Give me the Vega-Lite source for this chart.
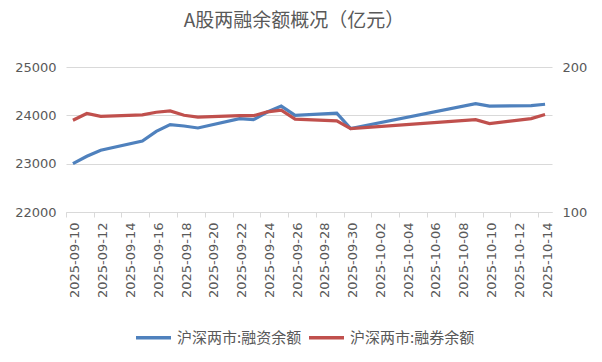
{
  "$schema": "https://vega.github.io/schema/vega-lite/v6.json",
  "autosize": "none",
  "width": 486,
  "height": 145,
  "padding": {"left": 66, "top": 67, "right": 50, "bottom": 150},
  "background": "white",
  "config": {"view": {"stroke": null}, "font": "Noto Sans CJK SC"},
  "title": {
    "text": "A股两融余额概况（亿元）",
    "font": "Noto Sans CJK SC",
    "fontSize": 19,
    "fontWeight": "normal",
    "color": "#595959",
    "anchor": "middle",
    "dx": -15,
    "offset": 30
  },
  "data": {
    "values": [
      {"date": "2025-09-10", "rz": 23002, "rq": 163.3},
      {"date": "2025-09-11", "rz": 23153, "rq": 167.9},
      {"date": "2025-09-12", "rz": 23277, "rq": 166.0},
      {"date": "2025-09-15", "rz": 23469, "rq": 167.0},
      {"date": "2025-09-16", "rz": 23669, "rq": 168.8},
      {"date": "2025-09-17", "rz": 23808, "rq": 169.7},
      {"date": "2025-09-18", "rz": 23779, "rq": 166.7},
      {"date": "2025-09-19", "rz": 23738, "rq": 165.5},
      {"date": "2025-09-22", "rz": 23932, "rq": 166.5},
      {"date": "2025-09-23", "rz": 23911, "rq": 166.4},
      {"date": "2025-09-24", "rz": 24068, "rq": 169.1},
      {"date": "2025-09-25", "rz": 24192, "rq": 170.2},
      {"date": "2025-09-26", "rz": 24000, "rq": 164.0},
      {"date": "2025-09-29", "rz": 24047, "rq": 162.8},
      {"date": "2025-09-30", "rz": 23725, "rq": 157.5},
      {"date": "2025-10-09", "rz": 24240, "rq": 163.7},
      {"date": "2025-10-10", "rz": 24190, "rq": 161.0},
      {"date": "2025-10-13", "rz": 24200, "rq": 164.4},
      {"date": "2025-10-14", "rz": 24230, "rq": 167.2}
    ]
  },
  "encoding": {
    "x": {
      "field": "date",
      "type": "temporal",
      "scale": {
        "type": "utc",
        "domain": [
          {"year": 2025, "month": 9, "date": 9, "hours": 12, "utc": true},
          {"year": 2025, "month": 10, "date": 14, "hours": 12, "utc": true}
        ]
      },
      "axis": {
        "title": null,
        "values": [
          {"year": 2025, "month": 9, "date": 10, "utc": true},
          {"year": 2025, "month": 9, "date": 12, "utc": true},
          {"year": 2025, "month": 9, "date": 14, "utc": true},
          {"year": 2025, "month": 9, "date": 16, "utc": true},
          {"year": 2025, "month": 9, "date": 18, "utc": true},
          {"year": 2025, "month": 9, "date": 20, "utc": true},
          {"year": 2025, "month": 9, "date": 22, "utc": true},
          {"year": 2025, "month": 9, "date": 24, "utc": true},
          {"year": 2025, "month": 9, "date": 26, "utc": true},
          {"year": 2025, "month": 9, "date": 28, "utc": true},
          {"year": 2025, "month": 9, "date": 30, "utc": true},
          {"year": 2025, "month": 10, "date": 2, "utc": true},
          {"year": 2025, "month": 10, "date": 4, "utc": true},
          {"year": 2025, "month": 10, "date": 6, "utc": true},
          {"year": 2025, "month": 10, "date": 8, "utc": true},
          {"year": 2025, "month": 10, "date": 10, "utc": true},
          {"year": 2025, "month": 10, "date": 12, "utc": true},
          {"year": 2025, "month": 10, "date": 14, "utc": true}
        ],
        "labelExpr": "utcFormat(datum.value, '%Y-%m-%d')",
        "labelAngle": -90,
        "labelFont": "DejaVu Sans",
        "labelFontSize": 13,
        "labelColor": "#595959",
        "labelPadding": 5,
        "labelOverlap": false,
        "tickOffset": -7,
        "labelOffset": 9,
        "tickSize": 5,
        "tickColor": "#D9D9D9",
        "domainColor": "#D9D9D9",
        "grid": false
      }
    },
    "color": {
      "type": "nominal",
      "scale": {
        "domain": ["沪深两市:融资余额", "沪深两市:融券余额"],
        "range": ["#4F81BD", "#C0504D"]
      },
      "legend": {
        "title": null,
        "orient": "none",
        "direction": "horizontal",
        "legendX": 68,
        "legendY": 251,
        "symbolType": "stroke",
        "symbolSize": 1225,
        "symbolStrokeWidth": 3.5,
        "labelFont": "Noto Sans CJK SC",
        "labelFontSize": 15,
        "labelColor": "#595959",
        "labelOffset": 4,
        "labelLimit": 300,
        "columnPadding": 0
      }
    }
  },
  "layer": [
    {
      "mark": {"type": "line", "strokeWidth": 3.2},
      "encoding": {
        "y": {
          "field": "rz",
          "type": "quantitative",
          "scale": {"domain": [22000, 25000], "nice": false, "zero": false},
          "axis": {
            "title": null,
            "orient": "left",
            "values": [22000, 23000, 24000, 25000],
            "format": "d",
            "grid": true,
            "gridColor": "#D9D9D9",
            "domain": false,
            "ticks": false,
            "labelFont": "DejaVu Sans",
            "labelFontSize": 13,
            "labelColor": "#595959",
            "labelPadding": 10
          }
        },
        "color": {"datum": "沪深两市:融资余额"}
      }
    },
    {
      "mark": {"type": "line", "strokeWidth": 3.2},
      "encoding": {
        "y": {
          "field": "rq",
          "type": "quantitative",
          "scale": {"domain": [100, 200], "nice": false, "zero": false},
          "axis": {
            "title": null,
            "orient": "right",
            "values": [100, 200],
            "grid": false,
            "domain": false,
            "ticks": false,
            "labelFont": "DejaVu Sans",
            "labelFontSize": 13,
            "labelColor": "#595959",
            "labelPadding": 10
          }
        },
        "color": {"datum": "沪深两市:融券余额"}
      }
    }
  ],
  "resolve": {"scale": {"y": "independent"}}
}
